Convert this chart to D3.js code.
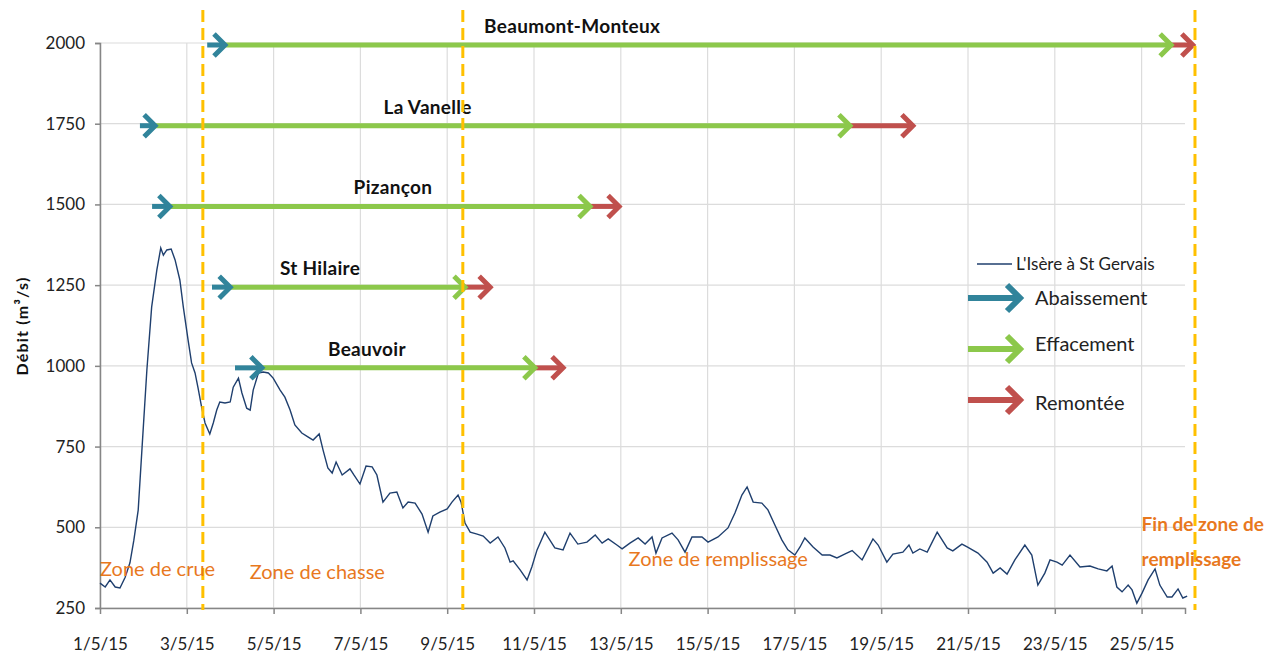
<!DOCTYPE html>
<html>
<head>
<meta charset="utf-8">
<script src="https://cdn.jsdelivr.net/npm/d3@7"></script>
<style>
  body { margin: 0; background: #fff; }
  svg { display: block; font-family: Lato, "Open Sans", sans-serif; }
</style>
</head>
<body>
<svg id="chart" width="1277" height="668"></svg>
<script>
// flow of the Isère at St Gervais, day of May 2015 (decimal) and m3/s
const flowDays = [1.00,1.12,1.23,1.35,1.46,1.58,1.69,1.78,1.88,1.97,2.08,2.19,2.31,2.40,2.46,2.54,2.64,2.73,2.84,2.92,
  3.03,3.11,3.19,3.26,3.34,3.42,3.53,3.61,3.69,3.76,3.88,4.00,4.07,4.19,4.27,4.38,4.46,4.53,4.65,4.76,4.88,4.99,
  5.15,5.26,5.38,5.49,5.65,5.79,5.91,6.05,6.14,6.25,6.35,6.44,6.58,6.76,6.85,6.99,7.13,7.27,7.38,7.52,7.68,7.84,7.98,
  8.10,8.26,8.42,8.56,8.67,8.83,9.00,9.11,9.25,9.32,9.41,9.53,9.69,9.83,9.99,10.17,10.33,10.45,10.52,10.68,10.84,10.95,
  11.07,11.25,11.48,11.67,11.83,12.01,12.22,12.41,12.57,12.71,12.91,13.03,13.21,13.40,13.56,13.72,13.81,13.95,
  14.18,14.32,14.48,14.64,14.87,15.01,15.24,15.47,15.63,15.79,15.91,16.05,16.25,16.39,16.55,16.71,16.85,
  17.01,17.13,17.24,17.43,17.64,17.82,17.98,18.17,18.33,18.56,18.81,18.93,19.13,19.27,19.50,19.64,19.73,19.89,
  20.06,20.29,20.52,20.65,20.86,20.98,21.23,21.44,21.58,21.74,21.90,22.08,22.31,22.47,22.61,22.77,22.89,
  23.05,23.17,23.35,23.58,23.81,24.00,24.20,24.32,24.43,24.55,24.69,24.78,24.89,25.01,25.15,25.31,25.42,
  25.59,25.70,25.84,25.95,26.05];
const flowValues = [327,315,337,315,312,345,390,460,553,749,987,1182,1297,1365,1343,1359,1362,1328,1266,1182,
  1080,1009,978,931,873,823,789,823,863,888,885,888,934,962,916,869,863,925,978,981,978,962,
  925,903,863,817,792,780,770,789,739,684,668,702,662,681,662,634,690,687,662,578,606,609,560,
  578,575,541,485,535,547,557,578,600,578,513,485,479,473,451,470,436,392,396,368,337,377,
  430,485,436,430,482,448,454,476,451,464,445,433,451,467,448,470,420,467,
  482,461,423,470,470,454,470,498,544,600,625,578,575,554,507,461,430,
  414,439,467,439,414,414,405,418,428,399,464,445,392,417,423,445,420,433,
  423,485,436,427,448,439,420,392,358,374,355,399,445,414,321,358,399,
  392,383,414,377,380,371,365,380,315,300,321,306,265,296,337,371,321,
  284,284,309,281,287];

// operations per dam: level drawn, abaissement start, effacement start, remontée start, end
const damNames = ["Beaumont-Monteux", "La Vanelle", "Pizançon", "St Hilaire", "Beauvoir"];
const damLevels = [2000, 1750, 1500, 1250, 1000];
const abaissementStart = [3.47, 1.92, 2.20, 3.58, 4.11];
const effacementStart = [3.88, 2.27, 2.61, 4.00, 4.73];
const remonteeStart = [25.68, 18.28, 12.29, 9.41, 11.02];
const operationEnd = [26.18, 19.73, 12.96, 9.99, 11.67];
const damLabelDays = [11.88, 8.55, 7.75, 6.07, 7.15];

const zoneLimits = [3.37, 9.36, 26.23];
const zoneNames = ["Zone de crue", "Zone de chasse", "Zone de remplissage"];
const zoneLabelDays = [1.0, 4.45, 13.18];
const zoneLabelValues = [350, 340, 380];
const yTicks = [250, 500, 750, 1000, 1250, 1500, 1750, 2000];

const colors = { blue: "#31849b", green: "#8cc84b", red: "#c0504d", line: "#1f3f6e", zone: "#e8781e", dash: "#ffc000" };

const svg = d3.select("#chart");
const toDate = d => new Date(new Date(2015, 4, 1).getTime() + (d - 1) * 864e5);

const x = d3.scaleTime().domain([new Date(2015, 4, 1), new Date(2015, 4, 26)]).range([100, 1185]);
const y = d3.scaleLinear().domain([250, 2000]).range([608, 43]);

// grid
svg.append("g").selectAll("line").data(yTicks).join("line")
  .attr("x1", 100).attr("x2", 1185).attr("y1", y).attr("y2", y)
  .attr("stroke", "#dcdcdc").attr("stroke-width", 1.2);
const xTicks = x.ticks(d3.timeDay.every(2));
svg.append("g").selectAll("line").data(xTicks).join("line")
  .attr("x1", x).attr("x2", x).attr("y1", 43).attr("y2", 608)
  .attr("stroke", "#dcdcdc").attr("stroke-width", 1.2);

// axes
const xAxis = svg.append("g").attr("transform", "translate(0,608)")
  .call(d3.axisBottom(x).tickValues(xTicks).tickFormat(d3.timeFormat("%-d/%-m/%y")).tickSize(6).tickPadding(24));
const yAxis = svg.append("g").attr("transform", "translate(100,0)")
  .call(d3.axisLeft(y).tickValues(yTicks).tickFormat(d3.format("d")).tickSize(5).tickPadding(10));
[xAxis, yAxis].forEach(a => {
  a.select(".domain").attr("stroke", "#868686").attr("stroke-width", 1.5);
  a.selectAll(".tick line").attr("stroke", "#868686").attr("stroke-width", 1.5);
  a.selectAll(".tick text").attr("fill", "#222").style("font-size", "17px").style("font-family", "Lato, sans-serif");
});
xAxis.select(".tick line").remove();

svg.append("text")
  .attr("transform", "translate(28,326) rotate(-90)")
  .attr("text-anchor", "middle")
  .style("font-size", "16px").style("font-weight", "bold").style("letter-spacing", "1.2px").attr("fill", "#111")
  .text("Débit (m³/s)");

// flow line
const flow = flowDays.map((d, i) => ({ date: toDate(d), value: flowValues[i] }));
svg.append("path").datum(flow)
  .attr("fill", "none").attr("stroke", colors.line).attr("stroke-width", 1.4)
  .attr("d", d3.line().x(d => x(d.date)).y(d => y(d.value)));

// arrows
function arrow(g, x1, x2, yy, color, w, head) {
  g.append("line").attr("x1", x1).attr("x2", x2 - 2).attr("y1", yy).attr("y2", yy)
    .attr("stroke", color).attr("stroke-width", w);
  g.append("polyline")
    .attr("points", `${x2 - head},${yy - head} ${x2},${yy} ${x2 - head},${yy + head}`)
    .attr("fill", "none").attr("stroke", color).attr("stroke-width", w)
    .attr("stroke-linejoin", "miter").attr("stroke-linecap", "butt");
}

const ops = svg.append("g");
damNames.forEach((name, i) => {
  const yy = y(damLevels[i]) + 2;
  const g = ops.append("g");
  arrow(g, x(toDate(remonteeStart[i])), x(toDate(operationEnd[i])), yy, colors.red, 5, 11);
  arrow(g, x(toDate(effacementStart[i])), x(toDate(remonteeStart[i])), yy, colors.green, 5, 11);
  arrow(g, x(toDate(abaissementStart[i])), x(toDate(effacementStart[i])), yy, colors.blue, 5, 11);
  g.append("text")
    .attr("x", x(toDate(damLabelDays[i]))).attr("y", yy - 12)
    .attr("text-anchor", "middle")
    .style("font-size", "19px").style("font-weight", "bold").style("letter-spacing", "0.3px").attr("fill", "#111")
    .text(name);
});

// zone limits
svg.append("g").selectAll("line").data(zoneLimits).join("line")
  .attr("x1", d => x(toDate(d))).attr("x2", d => x(toDate(d)))
  .attr("y1", 10).attr("y2", 610)
  .attr("stroke", colors.dash).attr("stroke-width", 3).attr("stroke-dasharray", "12,6");

svg.append("g").selectAll("text").data(zoneNames).join("text")
  .attr("x", (d, i) => x(toDate(zoneLabelDays[i])))
  .attr("y", (d, i) => y(zoneLabelValues[i]))
  .attr("fill", colors.zone).style("font-size", "20px")
  .text(d => d);
const fin = svg.append("text").attr("fill", colors.zone).style("font-size", "19px").style("font-weight", "bold");
fin.append("tspan").attr("x", x(toDate(25.0))).attr("y", y(500) + 4).text("Fin de zone de");
fin.append("tspan").attr("x", x(toDate(25.0))).attr("y", y(500) + 39).text("remplissage");

// legend
const lg = svg.append("g");
lg.append("line").attr("x1", 977).attr("x2", 1012).attr("y1", 264).attr("y2", 264)
  .attr("stroke", colors.line).attr("stroke-width", 1.5);
lg.append("text").attr("x", 1016).attr("y", 270).style("font-size", "17px").attr("fill", "#222")
  .text("L'Isère à St Gervais");
const legendItems = [["Abaissement", colors.blue, 298, 305], ["Effacement", colors.green, 349, 351], ["Remontée", colors.red, 400, 410]];
legendItems.forEach(([label, color, ay, ty]) => {
  arrow(lg, 968, 1020, ay, color, 6, 13);
  lg.append("text").attr("x", 1035).attr("y", ty).style("font-size", "20px").attr("fill", "#222").text(label);
});
</script>
</body>
</html>
